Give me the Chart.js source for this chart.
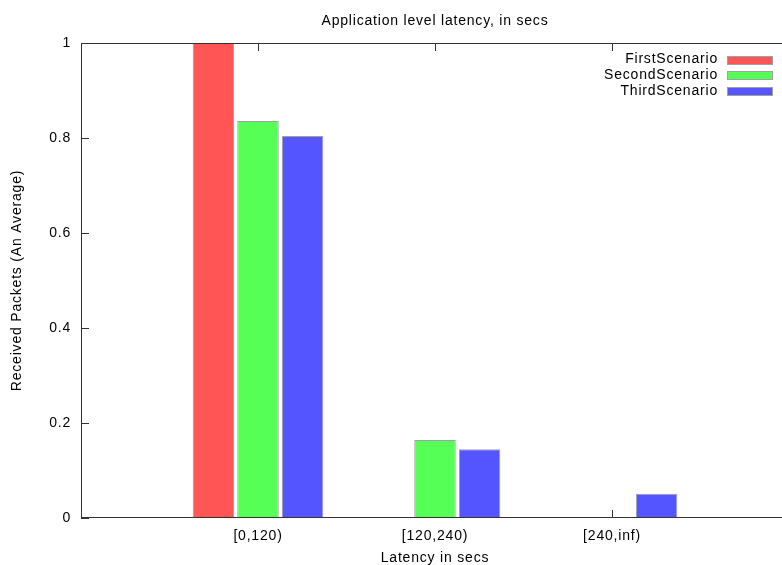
<!DOCTYPE html>
<html>
<head>
<meta charset="utf-8">
<script src="https://cdn.jsdelivr.net/npm/chart.js@4.4.1/dist/chart.umd.min.js"></script>
<style>
  html, body { margin: 0; padding: 0; overflow: hidden; background: #fff; }
  #wrap { width: 789px; height: 565px; }
</style>
</head>
<body>
<div id="wrap"><canvas id="c" width="789" height="565"></canvas></div>
<script>
// Latency buckets and the average share of received packets per scenario
const categories = ['[0,120)', '[120,240)', '[240,inf)'];
const firstScenario = [1.0, 0, 0];
const secondScenario = [0.836, 0.164, 0];
const thirdScenario = [0.804, 0.145, 0.051];
const yTicks = [0, 0.2, 0.4, 0.6, 0.8, 1];

const seriesNames = ['FirstScenario', 'SecondScenario', 'ThirdScenario'];
const seriesColors = ['#ff5555', '#55ff55', '#5555ff'];
const outline = '#a0a0a0';
const axisColor = '#333333';
const FONT = '"Liberation Sans", Arial, Helvetica, sans-serif';
const FONT_SIZE = 14;
const SPACING = '0.8px';

// empty slots on both ends so the buckets sit at 1, 2, 3 on a 0..4 axis
const labels = ['', ...categories, ''];
const pad = arr => [null, ...arr, null];

Chart.defaults.font.family = FONT;
Chart.defaults.font.size = FONT_SIZE;
Chart.defaults.color = '#000';

const spacingPlugin = {
  id: 'spacing',
  beforeUpdate(chart) { chart.ctx.letterSpacing = SPACING; },
  beforeLayout(chart) { chart.ctx.letterSpacing = SPACING; },
  beforeDraw(chart) { chart.ctx.letterSpacing = SPACING; }
};

// inward tick marks, drawn behind the boxes; frame drawn on top
const tickPlugin = {
  id: 'inwardTicks',
  beforeDatasetsDraw(chart) {
    const { ctx, chartArea: a, scales: { x, y } } = chart;
    ctx.save();
    ctx.strokeStyle = axisColor;
    ctx.lineWidth = 1;
    ctx.beginPath();
    yTicks.forEach(v => {
      const py = Math.round(y.getPixelForValue(v)) + 0.5;
      ctx.moveTo(a.left, py); ctx.lineTo(a.left + 8, py);
    });
    categories.forEach((c, i) => {
      const px = Math.round(x.getPixelForValue(i + 1)) + 0.5;
      ctx.moveTo(px, a.bottom); ctx.lineTo(px, a.bottom - 8);
      ctx.moveTo(px, a.top); ctx.lineTo(px, a.top + 8);
    });
    ctx.stroke();
    ctx.restore();
  },
  afterDatasetsDraw(chart) {
    const { ctx, chartArea: a } = chart;
    ctx.save();
    ctx.strokeStyle = axisColor;
    ctx.lineWidth = 1;
    ctx.strokeRect(a.left + 0.5, a.top + 0.5, a.right - a.left - 1, a.bottom - a.top - 1);
    ctx.restore();
  }
};

// key in the top right corner: label right-aligned, colour sample after it
const keyPlugin = {
  id: 'key',
  afterDraw(chart) {
    const { ctx, chartArea: a } = chart;
    ctx.save();
    ctx.letterSpacing = SPACING;
    ctx.font = FONT_SIZE + 'px ' + FONT;
    ctx.textAlign = 'right';
    ctx.textBaseline = 'middle';
    chart.data.datasets.forEach((ds, i) => {
      const cy = a.top + 16.5 + i * 15.8;
      ctx.fillStyle = '#000';
      ctx.fillText(ds.label, a.right - 71, cy);
      ctx.fillStyle = ds.backgroundColor;
      ctx.fillRect(a.right - 62, Math.round(cy - 4), 45, 8);
      ctx.strokeStyle = outline;
      ctx.lineWidth = 1;
      ctx.strokeRect(a.right - 62 + 0.5, Math.round(cy - 4) + 0.5, 45, 8);
    });
    ctx.restore();
  }
};

const values = [firstScenario, secondScenario, thirdScenario];

new Chart(document.getElementById('c'), {
  type: 'bar',
  data: {
    labels: labels,
    datasets: values.map((v, i) => ({
      label: seriesNames[i],
      data: pad(v),
      backgroundColor: seriesColors[i],
      borderColor: outline,
      borderWidth: 1,
      categoryPercentage: 0.756,
      barPercentage: 0.93
    }))
  },
  options: {
    responsive: false,
    animation: false,
    devicePixelRatio: 1,
    layout: { padding: 0 },
    plugins: {
      legend: { display: false },
      tooltip: { enabled: false },
      title: {
        display: true,
        fullSize: false,
        text: 'Application level latency, in secs',
        font: { size: FONT_SIZE, weight: 'normal' },
        color: '#000',
        padding: { top: 12.6, bottom: 13.6 }
      }
    },
    scales: {
      x: {
        type: 'category',
        offset: false,
        grid: { display: false, drawTicks: false },
        border: { display: false },
        ticks: { autoSkip: false, maxRotation: 0, padding: 10, color: '#000' },
        title: { display: true, text: 'Latency in secs', color: '#000', padding: { top: 0, bottom: -2 } },
        afterFit(scale) {
          scale.height = 47;
          scale.paddingLeft = 0;
          scale.paddingRight = 0;
        }
      },
      y: {
        min: 0,
        max: 1,
        grid: { display: false, drawTicks: false },
        border: { display: false },
        afterBuildTicks(scale) { scale.ticks = yTicks.map(v => ({ value: v })); },
        ticks: { padding: 10, color: '#000', callback: v => String(v) },
        title: { display: true, text: 'Received Packets (An Average)', color: '#000', padding: { top: 9, bottom: 0 } },
        afterFit(scale) { scale.width = 81; }
      }
    }
  },
  plugins: [spacingPlugin, tickPlugin, keyPlugin]
});
</script>
</body>
</html>
